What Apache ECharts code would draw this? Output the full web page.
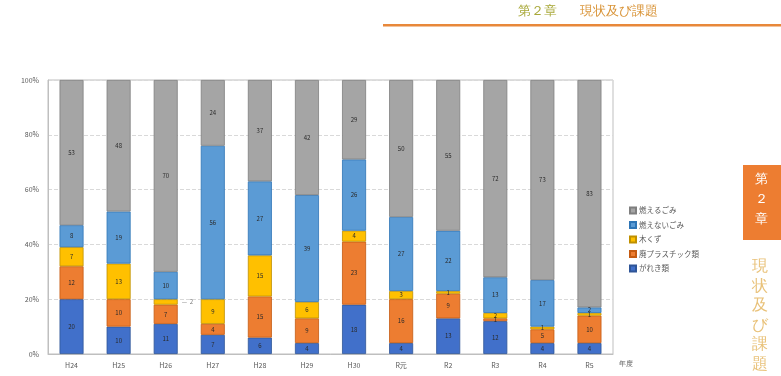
<!DOCTYPE html>
<html><head><meta charset="utf-8">
<script src="https://cdn.jsdelivr.net/npm/echarts@6/dist/echarts.min.js"></script>
<style>html,body{margin:0;padding:0;background:#fff}#c{width:781px;height:376px}</style>
</head><body><div id="c"></div>
<script>
const categories = ['H24','H25','H26','H27','H28','H29','H30','R元','R2','R3','R4','R5'];
const seriesNames = ['がれき類','廃プラスチック類','木くず','燃えないごみ','燃えるごみ'];
const gareki  = [20,10,11, 7, 6, 4,18, 4,13,12, 4, 4];
const haipura = [12,10, 7, 4,15, 9,23,16, 9, 1, 5,10];
const kikuzu  = [ 7,13, 2, 9,15, 6, 4, 3, 1, 2, 1, 1];
const moenai  = [ 8,19,10,56,27,39,26,27,22,13,17, 2];
const moeru   = [53,48,70,24,37,42,29,50,55,72,73,83];
const yTickLabels = ['0%','20%','40%','60%','80%','100%'];

const colors = ['#4170CA','#ED7D31','#FFC000','#5B9BD5','#A5A5A5'];
const borders = ['#2F5597','#C55A11','#BF9000','#2E75B6','#7F7F7F'];
const dataSets = [gareki, haipura, kikuzu, moenai, moeru];

const chart = echarts.init(document.getElementById('c'), null, {renderer:'canvas'});
const series = dataSets.map((d, i) => ({
  name: seriesNames[i], type: 'bar', stack: 'all', barWidth: 24,
  itemStyle: {color: colors[i], borderColor: borders[i], borderWidth: 0.8},
  label: {show: true, position: 'inside', fontSize: 6, color: '#2a2a2a', fontFamily: 'Noto Sans CJK JP'},
  data: d.map((v, j) => {
    if (i === 2 && j === 2) {
      return {value: v, label: {position: 'right', distance: 4, formatter: '—  {c}', color: '#777'}};
    }
    return v;
  })
}));

chart.setOption({
  animation: false,
  textStyle: {fontFamily: 'Noto Sans CJK JP'},
  grid: {left: 48, top: 80, width: 565, height: 274, show: true, borderColor: '#BFBFBF', borderWidth: 1},
  legend: {
    orient: 'vertical', left: 624, top: 201, itemWidth: 6, itemHeight: 6, itemGap: 5.5,
    icon: 'rect', data: seriesNames.slice().reverse(),
    textStyle: {fontSize: 7.5, color: '#595959', lineHeight: 9, padding: [0,0,0,-2]}
  },
  xAxis: {
    type: 'category', data: categories,
    axisTick: {show: false},
    axisLine: {lineStyle: {color: '#BFBFBF'}},
    axisLabel: {fontSize: 7, color: '#595959', margin: 8}
  },
  yAxis: {
    type: 'value', min: 0, max: 100, interval: 20,
    axisLine: {show: true, lineStyle: {color: '#BFBFBF'}},
    axisLabel: {fontSize: 7, color: '#595959', margin: 9, formatter: (v) => yTickLabels[v / 20]},
    splitLine: {lineStyle: {color: '#D9D9D9', type: 'dashed'}}
  },
  graphic: [
    {type: 'text', left: 619, top: 361, style: {text: '年度', fontSize: 7, fill: '#595959'}},
    {type: 'rect', shape: {x: 383, y: 24, width: 398, height: 2.5}, style: {fill: '#E8883A'}},
    {type: 'text', left: 518, top: 5, style: {text: '第２章', fontSize: 13, fill: '#A8A838'}},
    {type: 'text', left: 580, top: 5, style: {text: '現状及び課題', fontSize: 13, fill: '#D9953A'}},
    {type: 'rect', shape: {x: 743, y: 165, width: 38, height: 75}, style: {fill: '#ED7D31'}},
    {type: 'text', left: 755, top: 169, style: {text: '第\n２\n章', fontSize: 13, lineHeight: 20, fill: '#ffffff'}},
    {type: 'text', left: 752, top: 257, style: {text: '現\n状\n及\nび\n課\n題', fontSize: 16, lineHeight: 19.5, fill: '#E9C27A'}}
  ],
  series: series
});
</script></body></html>
